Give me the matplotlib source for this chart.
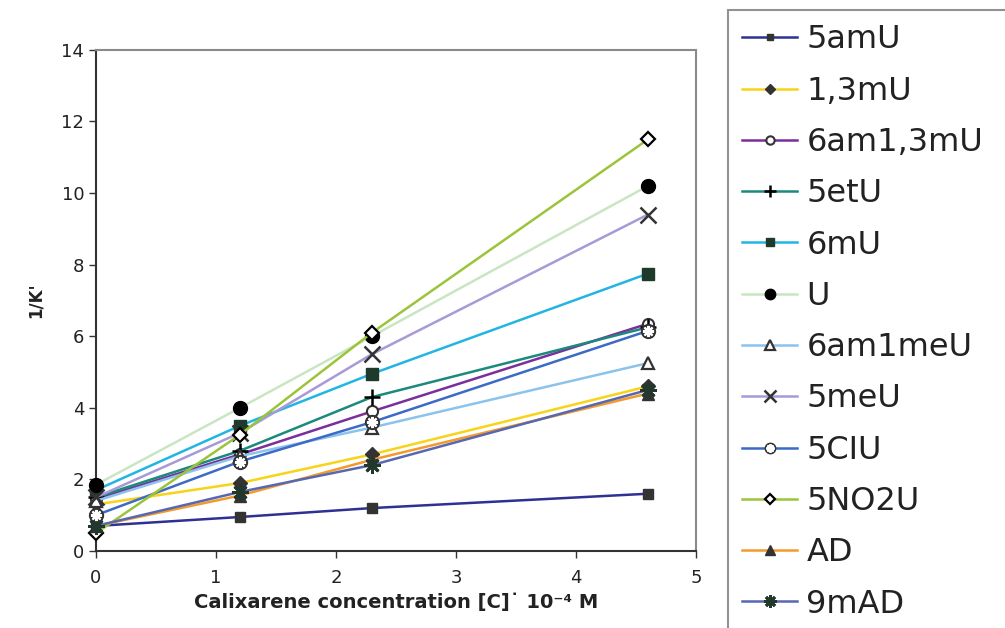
import matplotlib
matplotlib.use("Agg")
import matplotlib.pyplot as plt
from matplotlib.legend_handler import HandlerTuple

plt.rcParams['font.family'] = ['DejaVu Sans']

conc = [0, 1.2, 2.3, 4.6]

labels = ['5amU', '1,3mU', '6am1,3mU', '5etU', '6mU', 'U',
          '6am1meU', '5meU', '5CIU', '5NO2U', 'AD', '9mAD']

y_5amU = [0.7, 0.95, 1.2, 1.6]
y_13mU = [1.3, 1.9, 2.7, 4.6]
y_6am13mU = [1.45, 2.7, 3.9, 6.35]
y_5etU = [1.5, 2.8, 4.3, 6.25]
y_6mU = [1.7, 3.5, 4.95, 7.75]
y_U = [1.85, 4.0, 6.0, 10.2]
y_6am1meU = [1.4, 2.65, 3.45, 5.25]
y_5meU = [1.5, 3.3, 5.5, 9.4]
y_5ClU = [1.0, 2.5, 3.6, 6.15]
y_5NO2U = [0.5, 3.25, 6.1, 11.5]
y_AD = [0.7, 1.55, 2.55, 4.4]
y_9mAD = [0.7, 1.65, 2.4, 4.5]

series = [y_5amU, y_13mU, y_6am13mU, y_5etU, y_6mU, y_U,
          y_6am1meU, y_5meU, y_5ClU, y_5NO2U, y_AD, y_9mAD]

line_colors = ['#2e3192', '#f7d417', '#7a2f9c', '#1b8a7c', '#22b5e3', '#c9e6c3',
               '#8cc3ec', '#a79ad6', '#3c6ac6', '#9cc43a', '#f39a2b', '#5867b2']

dk = '#333333'
styles = [
    dict(marker='s', ms=6.5, mfc=dk, mec=dk),
    dict(marker='D', ms=7, mfc=dk, mec=dk),
    dict(marker='o', ms=8, mfc='white', mec=dk, mew=1.5),
    dict(marker='+', ms=12, mfc=dk, mec='black', mew=1.8),
    dict(marker='s', ms=8, mfc='#1e3a2a', mec='#1e3a2a'),
    dict(marker='o', ms=10, mfc='black', mec='black'),
    dict(marker='^', ms=9, mfc='white', mec=dk, mew=1.6),
    dict(marker='x', ms=11, mfc=dk, mec=dk, mew=1.8),
    dict(marker='o', ms=10, mfc=dk, mec=dk),
    dict(marker='D', ms=7, mfc='white', mec='black', mew=1.6),
    dict(marker='^', ms=9, mfc=dk, mec=dk),
    dict(marker=(8, 2, 0), ms=12, mfc='#23382c', mec='#23382c', mew=2),
]

fig = plt.figure(figsize=(10.05, 6.28), dpi=100)
ax = fig.add_axes([0.0955, 0.1226, 0.597, 0.798])

handles = []
for lab, ys, col, st in zip(labels, series, line_colors, styles):
    h, = ax.plot(conc, ys, color=col, lw=1.8, clip_on=False, zorder=3, **st)
    if lab == '5CIU':
        h2, = ax.plot(conc, ys, ls='none', marker=(8, 2, 0), ms=8, mec='white',
                      mew=1.6, clip_on=False, zorder=4)
        handles.append((h, h2))
    else:
        handles.append(h)

ax.set_xlim(0, 5)
ax.set_ylim(0, 14)
ax.set_xticks(range(0, 6))
ax.set_yticks(range(0, 15, 2))
ax.tick_params(labelsize=13, length=5, width=1, colors='#333333', labelcolor='#222222')
ax.tick_params(axis='x', pad=8)
for s in ['left', 'bottom']:
    ax.spines[s].set_color('#333333')
    ax.spines[s].set_linewidth(1.5)
for s in ['top', 'right']:
    ax.spines[s].set_color('#8a8a8a')
    ax.spines[s].set_linewidth(1.5)

ax.set_xlabel('Calixarene concentration [C]\u02d9 10\u207b\u2074 M', fontsize=14,
              fontweight='bold', color='#222222', labelpad=4)
ax.set_ylabel("1/K'", fontsize=12, fontweight='bold', color='#222222', labelpad=12)

leg = fig.legend(handles, labels, loc='upper left',
                 bbox_to_anchor=(0.7244, 0.0, 0.3, 0.984), mode='expand',
                 fontsize=23, frameon=True, fancybox=False, borderaxespad=0,
                 handlelength=1.7, handletextpad=0.3, borderpad=0.45, labelspacing=0.635,
                 markerscale=0.75,
                 handler_map={tuple: HandlerTuple(ndivide=1, pad=0)})
leg.get_frame().set_edgecolor('#777777')
leg.get_frame().set_linewidth(1.5)
for t in leg.get_texts():
    t.set_color('#222222')

fig.savefig('out.png', dpi=100)
